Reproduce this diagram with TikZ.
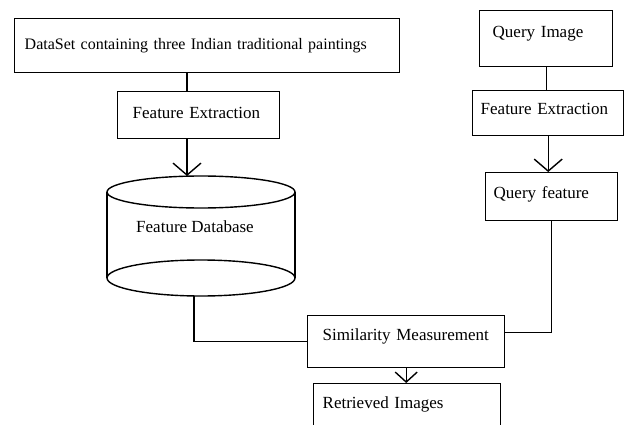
\documentclass[tikz,border=0pt]{standalone}
\usepackage{fontspec}
\setmainfont{Liberation Serif}
\usetikzlibrary{arrows.meta}

\tikzset{
  blk/.style={draw, line width=1.4pt, anchor=north west, inner ysep=0pt, align=left},
  con/.style={line width=1.4pt},
  arr/.style={line width=1.4pt, -{Straight Barb[length=12pt,width=28pt]}},
}

\begin{document}
\begin{tikzpicture}[x=1pt, y=-1pt, font=\fontsize{17}{20}\selectfont]

\useasboundingbox (0,0) rectangle (626,425);
\clip (0,0) rectangle (626,425);

% left column
\node[blk, inner xsep=10pt, text width=365pt, text height=30.5pt, text depth=23.5pt, font=\fontsize{16}{20}\selectfont] (data) at (14,18) {DataSet containing three Indian traditional paintings};
\node[blk, inner xsep=15pt, text width=132pt, text height=26.5pt, text depth=20.5pt] (fe1) at (117,91) {Feature Extraction};

% database cylinder
\draw[con] (107,192) -- (107,278);
\draw[con] (295,192) -- (295,278);
\draw[con] (201,192) ellipse [x radius=94, y radius=16];
\draw[con] (201,278) ellipse [x radius=94, y radius=18];
\node (db) at (195,227) {Feature Database};
\coordinate (dbtop) at (187,176);
\coordinate (dbbot) at (194,296);

% right column
\node[blk, inner xsep=13pt, text width=107pt, text height=26.5pt, text depth=29.5pt] (qimg) at (479,10) {Query Image};
\node[blk, inner xsep=8pt, text width=135pt, text height=23.5pt, text depth=21.5pt] (fe2) at (472,90) {Feature Extraction};
\node[blk, inner xsep=8pt, text width=116pt, text height=25.5pt, text depth=22.5pt] (qf) at (485,172) {Query feature};

% bottom
\node[blk, inner xsep=15pt, text width=167pt, text height=24.5pt, text depth=27.5pt] (sim) at (307,315) {Similarity Measurement};
\node[blk, inner xsep=9pt, text width=169pt, text height=24.5pt, text depth=25.5pt] (ret) at (313,383) {Retrieved Images};

% connectors
\draw[con] (data.south -| dbtop) -- (fe1.north -| dbtop);
\draw[arr] (fe1.south -| dbtop) -- (dbtop);
\draw[con] (dbbot) |- (sim.west);
\draw[con] (qimg.south) -- (qimg.south |- fe2.north);
\draw[arr] (fe2.south) -- (fe2.south |- qf.north);
\draw[con] (qf.south) |- ([yshift=9pt]sim.east);
\draw[arr, -{Straight Barb[length=10pt,width=22pt]}] (sim.south) -- (sim.south |- ret.north);

\end{tikzpicture}
\end{document}
